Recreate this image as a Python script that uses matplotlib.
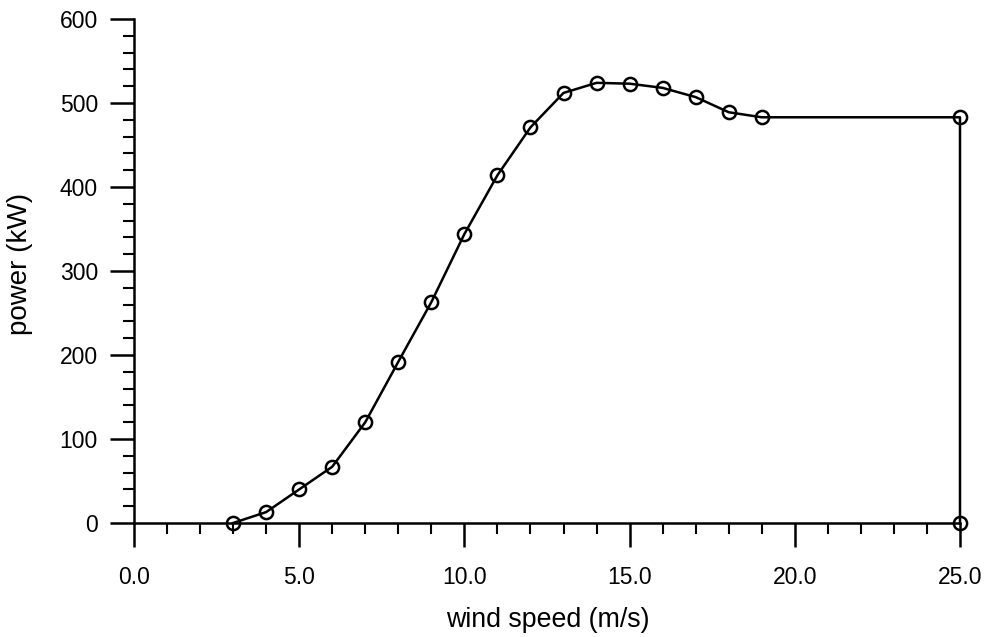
import matplotlib
matplotlib.use("Agg")
import matplotlib.pyplot as plt
from matplotlib.ticker import MultipleLocator, FormatStrFormatter

# wind turbine power curve
wind_speed = [3, 4, 5, 6, 7, 8, 9, 10, 11, 12, 13, 14, 15, 16, 17, 18, 19, 25, 25]
power_kw = [0, 13, 40, 67, 120, 192, 263, 344, 414, 471, 512, 524, 523, 518, 507, 489, 483, 483, 0]

plt.rcParams['font.family'] = ['Liberation Sans', 'DejaVu Sans']

fig = plt.figure(figsize=(9.9, 6.37), dpi=100)
ax = fig.add_axes([134/990, 1 - 523/637, 826/990, 504/637])

ax.plot(wind_speed, power_kw, color='black', lw=1.8, marker='o', ms=9.5,
        mfc='none', mec='black', mew=1.8, clip_on=False, zorder=3)

ax.set_xlim(0, 25)
ax.set_ylim(0, 600)

for s in ['top', 'right']:
    ax.spines[s].set_visible(False)
for s in ['left', 'bottom']:
    ax.spines[s].set_linewidth(1.8)

ax.xaxis.set_major_locator(MultipleLocator(5))
ax.xaxis.set_minor_locator(MultipleLocator(1))
ax.xaxis.set_major_formatter(FormatStrFormatter('%.1f'))
ax.yaxis.set_major_locator(MultipleLocator(100))
ax.yaxis.set_minor_locator(MultipleLocator(20))

ax.tick_params(which='major', direction='out', length=17, width=1.8,
               labelsize=16.5, pad=14)
ax.tick_params(which='minor', direction='out', length=8, width=1.5)
ax.tick_params(axis='y', which='major', pad=9)

ax.set_xlabel('wind speed (m/s)', fontsize=19.3)
ax.set_ylabel('power (kW)', fontsize=20)
ax.xaxis.set_label_coords(0.501, -0.166)
ax.yaxis.set_label_coords(-0.122, 0.514)

fig.savefig('out.png', dpi=100)
